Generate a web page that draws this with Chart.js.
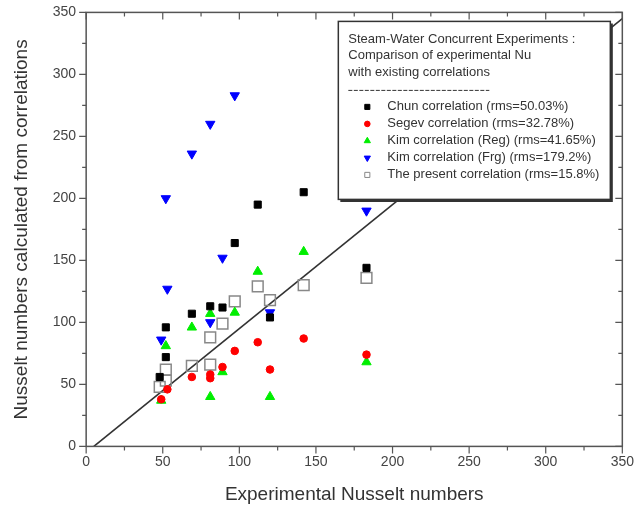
<!DOCTYPE html>
<html>
<head>
<meta charset="utf-8">
<script src="https://cdn.jsdelivr.net/npm/chart.js@4"></script>
<style>
  body { margin: 0; background: #fff; }
  #wrap { width: 638px; height: 516px; }
</style>
</head>
<body>
<div id="wrap"><canvas id="nuChart" width="638" height="516"></canvas></div>
<script>
// values
const chunX = [48, 52, 52, 69, 81, 89, 97, 112, 120, 142, 183];
const chunY = [56, 72, 96, 107, 113, 112, 164, 195, 104, 205, 144];
const segevX = [49, 53, 69, 81, 81, 89, 97, 112, 120, 142, 183];
const segevY = [38, 46, 56, 58, 55, 64, 77, 84, 62, 87, 74];
const kimRegX = [49, 52, 69, 81, 81, 89, 97, 112, 120, 142, 183];
const kimRegY = [37, 81, 96, 107, 40, 60, 108, 141, 40, 157, 68];
const kimFrgX = [49, 53, 52, 69, 81, 81, 89, 97, 120, 183];
const kimFrgY = [86, 127, 200, 236, 260, 100, 152, 283, 108, 190];
const presentX = [48, 52, 52, 69, 81, 81, 89, 97, 112, 120, 142, 183];
const presentY = [48, 53, 62, 65, 66, 88, 99, 117, 129, 118, 130, 136];
const fitX = [5, 350];
const fitY = [0, 345];

const seriesLabels = [
  'Chun correlation (rms=50.03%)',
  'Segev correlation (rms=32.78%)',
  'Kim correlation (Reg) (rms=41.65%)',
  'Kim correlation (Frg) (rms=179.2%)',
  'The present correlation (rms=15.8%)'
];
const legendTitle = [
  'Steam-Water Concurrent Experiments :',
  'Comparison of experimental Nu',
  'with existing correlations'
];
const axisMax = 350;
const tickStep = 25;

const FONT = '"Liberation Sans", Arial, sans-serif';
const toPoints = (xs, ys) => xs.map((x, i) => ({ x: x, y: ys[i] }));

// frame ticks: outward on bottom/left, inward on top/right
const frameTicks = {
  id: 'frameTicks',
  afterDraw(chart) {
    const ctx = chart.ctx;
    const a = chart.chartArea;
    const xs = chart.scales.x, ys = chart.scales.y;
    ctx.save();
    ctx.strokeStyle = '#555';
    ctx.lineWidth = 1.5;
    ctx.strokeRect(a.left, a.top, a.right - a.left, a.bottom - a.top);
    ctx.lineWidth = 1.2;
    for (let v = 0; v <= axisMax; v += tickStep) {
      const len = v % 50 === 0 ? 7 : 4;
      const px = xs.getPixelForValue(v);
      const py = ys.getPixelForValue(v);
      ctx.beginPath();
      ctx.moveTo(px, a.bottom); ctx.lineTo(px, a.bottom + len);
      ctx.moveTo(px, a.top); ctx.lineTo(px, a.top + len);
      ctx.moveTo(a.left, py); ctx.lineTo(a.left - len, py);
      ctx.moveTo(a.right, py); ctx.lineTo(a.right - len, py);
      ctx.stroke();
    }
    ctx.restore();
  }
};

// boxed legend inside the plot, top right
const boxLegend = {
  id: 'boxLegend',
  afterDatasetsDraw(chart) {
    const ctx = chart.ctx;
    const a = chart.chartArea;
    const w = 272, h = 178;
    const left = a.right - 12 - w;
    const top = a.top + 9;
    ctx.save();
    ctx.fillStyle = '#fff';
    ctx.fillRect(left, top, w, h);
    ctx.strokeStyle = '#333';
    ctx.lineWidth = 1.5;
    ctx.strokeRect(left, top, w, h);
    ctx.lineWidth = 2;
    ctx.beginPath();
    ctx.moveTo(left + 2, top + h + 1.5);
    ctx.lineTo(left + w + 1.5, top + h + 1.5);
    ctx.lineTo(left + w + 1.5, top + 2);
    ctx.stroke();

    ctx.fillStyle = '#333';
    ctx.font = '13px ' + FONT;
    ctx.textBaseline = 'middle';
    legendTitle.forEach((t, i) => ctx.fillText(t, left + 10, top + 18 + i * 16.5));

    ctx.setLineDash([4, 1.5]);
    ctx.lineWidth = 1;
    ctx.beginPath();
    ctx.moveTo(left + 10, top + 69);
    ctx.lineTo(left + 151, top + 69);
    ctx.stroke();
    ctx.setLineDash([]);

    seriesLabels.forEach((t, i) => {
      const ds = chart.data.datasets[i];
      const y = top + 85.5 + i * 17;
      ctx.fillStyle = ds.backgroundColor;
      ctx.strokeStyle = ds.borderColor;
      ctx.lineWidth = 1;
      Chart.helpers.drawPoint(ctx, {
        pointStyle: ds.pointStyle,
        rotation: ds.rotation || 0,
        radius: ds.pointStyle === 'circle' ? 2.8 : 3.6,
        borderWidth: 1
      }, left + 29, y);
      ctx.fillStyle = '#333';
      ctx.fillText(t, left + 49, y);
    });
    ctx.restore();
  }
};

const scatterSet = (label, xs, ys, style, color, border, radius, rotation) => ({
  type: 'scatter',
  label: label,
  data: toPoints(xs, ys),
  pointStyle: style,
  rotation: rotation,
  backgroundColor: color,
  borderColor: border,
  borderWidth: 1,
  pointRadius: radius,
  pointHoverRadius: radius
});

new Chart(document.getElementById('nuChart'), {
  type: 'scatter',
  data: {
    datasets: [
      scatterSet(seriesLabels[0], chunX, chunY, 'rect', '#000', '#000', 5, 0),
      scatterSet(seriesLabels[1], segevX, segevY, 'circle', '#ff0000', '#ff0000', 3.8, 0),
      scatterSet(seriesLabels[2], kimRegX, kimRegY, 'triangle', '#00ee00', '#00ee00', 5.4, 0),
      scatterSet(seriesLabels[3], kimFrgX, kimFrgY, 'triangle', '#0000ff', '#0000ff', 5.4, 180),
      Object.assign(scatterSet(seriesLabels[4], presentX, presentY, 'rect', 'rgba(0,0,0,0)', '#888', 7.6, 0), { borderWidth: 1.5 }),
      {
        type: 'line',
        label: 'fit',
        data: toPoints(fitX, fitY),
        borderColor: '#333',
        borderWidth: 1.6,
        pointRadius: 0,
        fill: false,
        order: 10
      }
    ]
  },
  options: {
    responsive: false,
    animation: false,
    layout: { padding: { left: 10, right: 0, top: 0, bottom: 10 } },
    plugins: {
      legend: { display: false },
      tooltip: { enabled: false }
    },
    scales: {
      x: {
        type: 'linear',
        min: 0,
        max: axisMax,
        grid: { drawOnChartArea: false, drawTicks: true, tickLength: 3, tickColor: 'rgba(0,0,0,0)' },
        border: { display: false },
        ticks: {
          stepSize: tickStep,
          autoSkip: false,
          maxRotation: 0,
          padding: 4,
          color: '#444',
          font: { family: FONT, size: 14 },
          callback: v => (v % 50 === 0 ? v : '')
        },
        title: {
          display: true,
          text: 'Experimental Nusselt numbers',
          color: '#333',
          padding: { top: 9, bottom: 0 },
          font: { family: FONT, size: 19 }
        }
      },
      y: {
        type: 'linear',
        min: 0,
        max: axisMax,
        grid: { drawOnChartArea: false, drawTicks: true, tickLength: 6, tickColor: 'rgba(0,0,0,0)' },
        border: { display: false },
        ticks: {
          stepSize: tickStep,
          autoSkip: false,
          padding: 4,
          color: '#444',
          font: { family: FONT, size: 14 },
          callback: v => (v % 50 === 0 ? v : '')
        },
        title: {
          display: true,
          text: 'Nusselt numbers calculated from correlations',
          color: '#333',
          padding: { top: 0, bottom: 16 },
          font: { family: FONT, size: 19 }
        }
      }
    }
  },
  plugins: [frameTicks, boxLegend]
});
</script>
</body>
</html>
